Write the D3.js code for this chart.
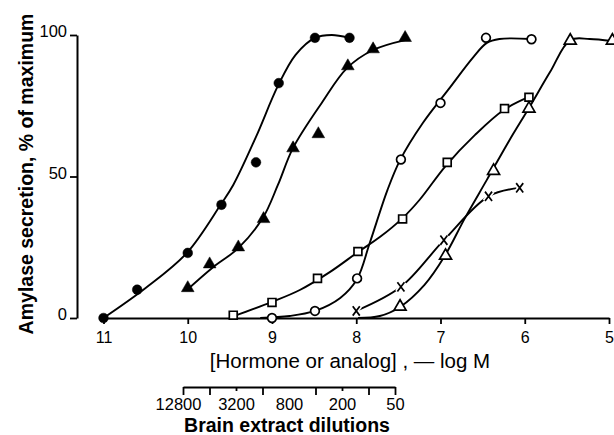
<!DOCTYPE html>
<html>
<head>
<meta charset="utf-8">
<script src="https://cdn.jsdelivr.net/npm/d3@7"></script>
<style>
  body { margin: 0; background: #fff; }
  svg { display: block; }
</style>
</head>
<body>
<div id="chart"></div>
<script>
// x = [hormone or analog], -log M ; y = amylase secretion, % of maximum
const xTicks = [11, 10, 9, 8, 7, 6, 5];
const yTicks = [0, 50, 100];
const dilutionTicks = [12800, 6400, 3200, 1600, 800, 400, 200, 100, 50];
const dilutionLabels = [12800, 3200, 800, 200, 50];
const dilutionMinor = [3200, 200];

// measured points, one array per series
const filledCircles = [[11, 0], [10.6, 10], [10, 23], [9.6, 40], [9.19, 55], [8.92, 83], [8.49, 99], [8.08, 99]];
const filledTriangles = [[10, 10.6], [9.74, 19], [9.4, 25], [9.1, 35], [8.75, 60], [8.45, 65], [8.1, 89], [7.8, 95], [7.42, 99]];
const openCircles = [[9, 0], [8.49, 2.5], [7.99, 14], [7.47, 56], [7.0, 76], [6.46, 99], [5.92, 98.5]];
const openSquares = [[9.46, 1], [9.0, 5.5], [8.46, 14], [7.98, 23.5], [7.45, 35], [6.92, 55], [6.24, 74], [5.95, 78]];
const openTriangles = [[7.48, 4], [6.94, 22], [6.37, 52], [5.95, 74], [5.46, 98], [4.96, 98]];
const crosses = [[8.0, 2.5], [7.47, 11], [6.96, 27.5], [6.43, 43], [6.06, 46]];

// fitted curves as drawn in the figure
const fitFilledCircles = [[11, 0], [10.5, 10.6], [10.01, 23], [9.61, 40], [9.46, 47], [9.19, 64], [8.93, 82], [8.72, 93], [8.49, 99], [8.29, 100], [8.09, 99]];
const fitFilledTriangles = [[10.01, 9.9], [9.71, 17.7], [9.4, 24.7], [9.11, 35.3], [8.93, 47], [8.75, 60.1], [8.41, 76], [8.11, 88.3], [7.8, 94.7], [7.42, 98.2]];
const fitOpenCircles = [[9.14, 0], [8.79, 0.7], [8.49, 2.5], [8.19, 7.1], [7.99, 13.8], [7.84, 26.5], [7.63, 45.2], [7.48, 55.8], [7.21, 68.9], [6.91, 80.6], [6.61, 92.2], [6.45, 97.2], [6.3, 98.6], [5.93, 98.6]];
const fitOpenSquares = [[9.45, 0.7], [9.0, 5.7], [8.67, 9.9], [8.31, 16.3], [7.98, 23.3], [7.72, 28.6], [7.45, 35.3], [7.25, 41.7], [6.94, 53.7], [6.59, 64.7], [6.25, 73.5], [5.95, 78.1]];
const fitOpenTriangles = [[7.98, 0], [7.72, 0.7], [7.48, 3.9], [7.19, 11.7], [6.95, 21.9], [6.71, 35.3], [6.45, 48.8], [6.18, 62.9], [5.95, 74.2], [5.7, 86.9], [5.46, 98.2], [5.23, 98.6], [4.97, 97.9]];
const fitCrosses = crosses;

const width = 614;
const height = 435;
const font = "'Liberation Sans', Arial, sans-serif";

const svg = d3.select("#chart").append("svg")
  .attr("width", width)
  .attr("height", height)
  .style("font-family", font);

const x = d3.scaleLinear().domain([11, 5]).range([103.5, 609]);
const y = d3.scaleLinear().domain([0, 100]).range([318, 35]);
const dil = d3.scaleLog().base(2).domain([12800, 50]).range([183, 395]);

// y axis
const yAxisG = svg.append("g")
  .attr("transform", "translate(77,0)")
  .call(d3.axisLeft(y).tickValues(yTicks).tickSize(7).tickSizeOuter(0).tickPadding(3)
    .tickFormat(d3.format("d")));
yAxisG.select(".domain").attr("stroke-width", 2);
yAxisG.selectAll(".tick line").attr("stroke-width", 1.8);
yAxisG.selectAll(".tick text")
  .attr("dy", "0.1em")
  .style("font-size", "16.5px")
  .style("font-family", font);

// x axis
const xAxisG = svg.append("g")
  .attr("transform", "translate(0,318)")
  .call(d3.axisBottom(x).tickValues(xTicks).tickSize(6).tickSizeOuter(0).tickPadding(8)
    .tickFormat(d3.format("d")));
xAxisG.select(".domain").attr("stroke-width", 2);
xAxisG.selectAll(".tick line").attr("stroke-width", 1.8);
xAxisG.selectAll(".tick text")
  .style("font-size", "16px")
  .style("font-family", font);

svg.append("text")
  .attr("x", 350)
  .attr("y", 368)
  .attr("text-anchor", "middle")
  .style("font-size", "20.5px")
  .text("[Hormone or analog] , \u2014 log M");

svg.append("text")
  .attr("transform", "translate(33,174) rotate(-90)")
  .attr("text-anchor", "middle")
  .style("font-size", "19.5px")
  .style("font-weight", "bold")
  .text("Amylase secretion, % of maximum");

// brain extract dilution scale
const dilAxisG = svg.append("g")
  .attr("transform", "translate(0,387)")
  .call(d3.axisBottom(dil).tickValues(dilutionTicks).tickSize(8).tickSizeOuter(0).tickPadding(4)
    .tickFormat(d => dilutionLabels.includes(d) ? d : ""));
dilAxisG.select(".domain").attr("stroke-width", 1.8);
dilAxisG.selectAll(".tick line")
  .attr("stroke-width", 1.8)
  .attr("y2", d => dilutionMinor.includes(d) ? 4 : (d === 800 ? 0 : 8));
dilAxisG.selectAll(".tick text")
  .attr("y", 11)
  .attr("dx", d => d === 12800 ? -5 : 0)
  .style("font-size", "16.5px")
  .style("font-family", font);

svg.append("text")
  .attr("x", 287)
  .attr("y", 432)
  .attr("text-anchor", "middle")
  .style("font-size", "19.5px")
  .style("font-weight", "bold")
  .text("Brain extract dilutions");

// curves
const line = d3.line()
  .x(d => x(d[0]))
  .y(d => y(d[1]))
  .curve(d3.curveCatmullRom.alpha(0.5));

const plot = svg.append("g");
[fitFilledCircles, fitFilledTriangles, fitOpenCircles, fitOpenSquares, fitOpenTriangles, fitCrosses]
  .forEach(fit => {
    plot.append("path")
      .datum(fit)
      .attr("fill", "none")
      .attr("stroke", "#000")
      .attr("stroke-width", 1.9)
      .attr("d", line);
  });

const crossSymbol = {
  draw(ctx, size) {
    const r = Math.sqrt(size) / 2;
    ctx.moveTo(-r * 0.75, -r); ctx.lineTo(r * 0.75, r);
    ctx.moveTo(r * 0.75, -r); ctx.lineTo(-r * 0.75, r);
  }
};

function drawMarkers(data, type, size, filled) {
  plot.append("g").selectAll("path")
    .data(data)
    .join("path")
    .attr("transform", d => `translate(${x(d[0])},${y(d[1])})`)
    .attr("d", d3.symbol().type(type).size(size))
    .attr("fill", filled ? "#000" : "#fff")
    .attr("stroke", "#000")
    .attr("stroke-width", filled ? 0.5 : 1.7);
}

drawMarkers(filledCircles, d3.symbolCircle, 74, true);
drawMarkers(filledTriangles, d3.symbolTriangle, 70, true);
drawMarkers(openCircles, d3.symbolCircle, 60, false);
drawMarkers(openSquares, d3.symbolSquare, 62, false);
drawMarkers(openTriangles, d3.symbolTriangle, 62, false);

// crosses with a white halo so the curve breaks at each mark
plot.append("g").selectAll("path")
  .data(crosses)
  .join("path")
  .attr("transform", d => `translate(${x(d[0])},${y(d[1])})`)
  .attr("d", d3.symbol().type(crossSymbol).size(96))
  .attr("fill", "none")
  .attr("stroke", "#fff")
  .attr("stroke-width", 5);
plot.append("g").selectAll("path")
  .data(crosses)
  .join("path")
  .attr("transform", d => `translate(${x(d[0])},${y(d[1])})`)
  .attr("d", d3.symbol().type(crossSymbol).size(88))
  .attr("fill", "none")
  .attr("stroke", "#000")
  .attr("stroke-width", 1.7);
</script>
</body>
</html>
